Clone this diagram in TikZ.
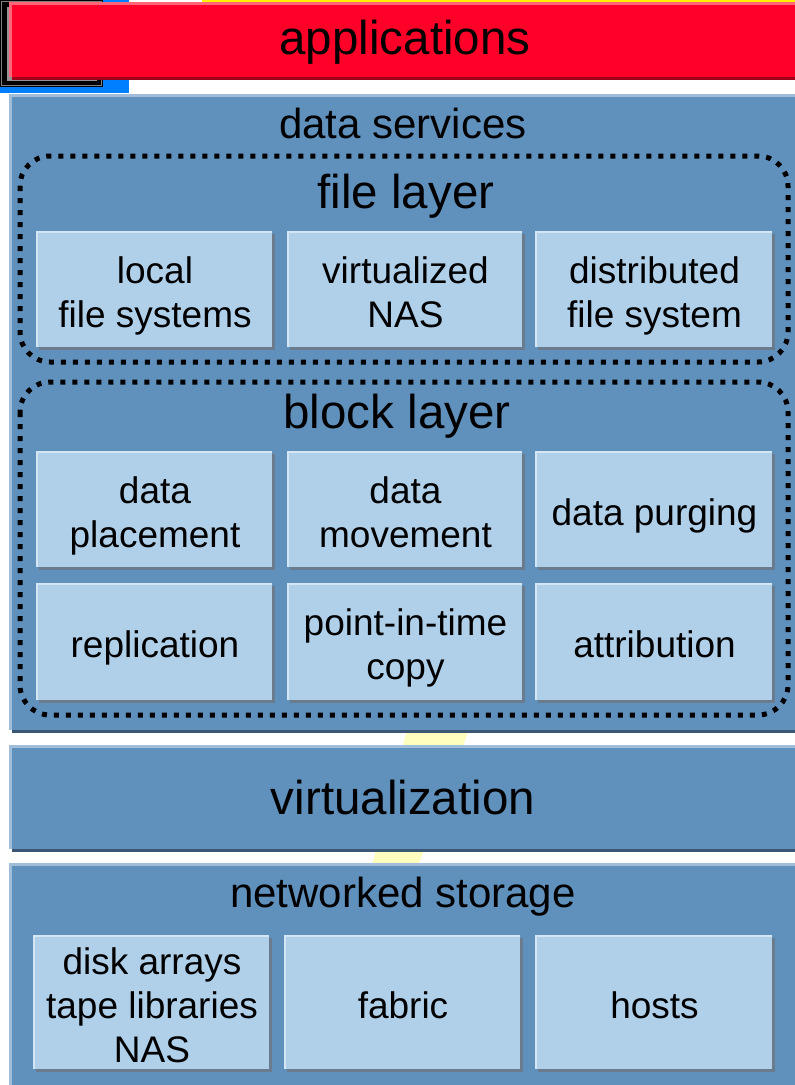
\documentclass[tikz,border=0pt]{standalone}
\usepackage{fontspec}
\setmainfont{Liberation Sans}
\definecolor{appred}{HTML}{FF0029}
\definecolor{appredrim}{HTML}{FF6478}
\definecolor{appredsh}{HTML}{A00018}
\definecolor{panelc}{HTML}{6090BC}
\definecolor{panelrim}{HTML}{A0BEDA}
\definecolor{panelsh}{HTML}{3A5873}
\definecolor{boxc}{HTML}{B0CFE9}
\definecolor{boxrim}{HTML}{D4E5F4}
\definecolor{boxsh}{HTML}{6A7B8E}
\definecolor{artblue}{HTML}{0080FF}
\definecolor{paleyel}{HTML}{FFFFBE}
\definecolor{topyel}{HTML}{FFF000}
\tikzset{
  boxtext/.style={inner sep=0pt, align=center, font=\fontsize{37}{44}\selectfont, text=black, yshift=-6.5pt},
  headbig/.style={inner sep=0pt, font=\fontsize{47.5}{52}\selectfont, text=black},
  headmid/.style={inner sep=0pt, font=\fontsize{42}{48}\selectfont, text=black},
  layerline/.style={draw=black, line width=5pt, dash pattern=on 5pt off 7pt, rounded corners=30pt},
}
% panel: name, x0, y0, x1, y1, rim colour, body colour, shadow colour
\newcommand\mypanel[8]{%
  \fill[#8] ({#2+3},{#3+3}) rectangle ({#4+3},{#5+3});
  \fill[#6] (#2,#3) rectangle (#4,#5);
  \fill[#7] ({#2+3},{#3+3}) rectangle (#4,#5);
  \coordinate (#1) at ({(#2+#4)/2},{(#3+#5)/2});}
% light box: name, x0, y0, x1, y1, text
\newcommand\mybox[6]{%
  \fill[boxsh] ({#2+3},{#3+3}) rectangle ({#4+3},{#5+3});
  \fill[boxrim] (#2,#3) rectangle (#4,#5);
  \fill[boxc] ({#2+2},{#3+2}) rectangle (#4,#5);
  \node[boxtext] (#1) at ({(#2+#4)/2+1},{(#3+#5)/2+1}) {#6};}
\begin{document}
\begin{tikzpicture}[x=1pt,y=-1pt]
\useasboundingbox (0,0) rectangle (795,1085);
\fill[white] (0,0) rectangle (795,1085);
% background artefacts
\fill[topyel] (202,0) rectangle (795,3);
\fill[artblue] (0,0) rectangle (129,93);
\fill[black] (0,0) rectangle (103,87);
\draw[gray, line width=1.5pt] (1.5,1.5) rectangle (101.5,85.5);
\fill[gray!85] (6,6) rectangle (97,81);
\draw[black, line width=1pt] (6,6) rectangle (97,81);
\fill[paleyel] (407,730) -- (469,730) -- (418,866) -- (372,866) -- cycle;
% applications
\mypanel{apppanel}{9}{2}{795}{77}{appredrim}{appred}{appredsh}
\node[headbig] (app) at (405,42) {applications};
% data services
\mypanel{dspanel}{9}{94}{795}{730}{panelrim}{panelc}{panelsh}
\node[headmid] (ds) at (403,123) {data services};
\draw[layerline] (20,156) rectangle (788,362);
\node[headbig] (fl) at (406,196) {file layer};
\mybox{lfs}{36}{231}{272}{347}{\strut local\\\strut file systems}
\mybox{vnas}{287}{231}{522}{347}{\strut virtualized\\\strut NAS}
\mybox{dfs}{535}{231}{772}{347}{\strut distributed\\\strut file system}
\draw[layerline] (20,382) rectangle (788,715);
\node[headbig] (bl) at (397,416) {block layer};
\mybox{dp}{36}{451}{272}{567}{\strut data\\\strut placement}
\mybox{dm}{287}{451}{522}{567}{\strut data\\\strut movement}
\mybox{dpu}{535}{451}{772}{567}{\strut data purging}
\mybox{rep}{36}{583}{272}{700}{\strut replication}
\mybox{pit}{287}{583}{522}{700}{\strut point-in-time\\\strut copy}
\mybox{att}{535}{583}{772}{700}{\strut attribution}
% virtualization
\mypanel{vpanel}{9}{745}{795}{849}{panelrim}{panelc}{panelsh}
\node[headbig] (virt) at (403,798) {virtualization};
% networked storage
\mypanel{nspanel}{9}{863}{795}{1090}{panelrim}{panelc}{panelsh}
\node[headmid] (ns) at (403,897) {networked storage};
\mybox{dsk}{33}{935}{269}{1069}{\strut disk arrays\\\strut tape libraries\\\strut NAS}
\mybox{fab}{284}{935}{520}{1069}{\strut fabric}
\mybox{hst}{535}{935}{772}{1069}{\strut hosts}
\end{tikzpicture}
\end{document}
